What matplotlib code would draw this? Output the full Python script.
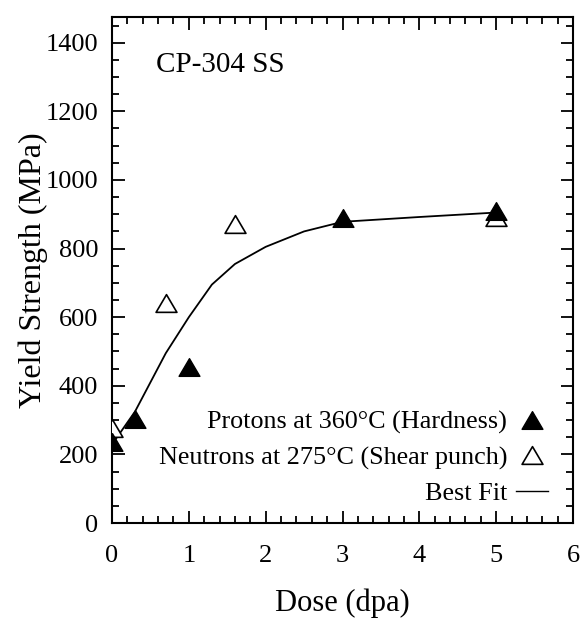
import matplotlib
matplotlib.use("Agg")
import matplotlib.pyplot as plt
from matplotlib.lines import Line2D
from matplotlib.path import Path
from matplotlib.ticker import MultipleLocator

plt.rcParams['font.family'] = ['Liberation Serif', 'DejaVu Serif']

# Data
proton_dose = [0.0, 0.3, 1.0, 3.0, 5.0]
proton_ys = [237, 302, 456, 890, 910]
neutron_dose = [0.0, 0.7, 1.6, 5.0]
neutron_ys = [278, 640, 872, 892]
fit_dose = [0.05, 0.3, 0.7, 1.0, 1.3, 1.6, 2.0, 2.5, 3.0, 4.0, 5.0]
fit_ys = [245, 325, 495, 600, 695, 755, 805, 850, 878, 892, 905]

labels = ["Protons at 360°C (Hardness)", "Neutrons at 275°C (Shear punch)", "Best Fit"]

tri = Path([(-1, -0.85), (1, -0.85), (0, 0.85), (-1, -0.85)],
           [Path.MOVETO, Path.LINETO, Path.LINETO, Path.CLOSEPOLY])

fig = plt.figure(figsize=(5.82, 6.23), dpi=100)
ax = fig.add_axes([112/582, 1-523/623, 461/582, 506/623])

ax.plot(fit_dose, fit_ys, color='black', lw=1.3, zorder=2)
ax.plot(neutron_dose, neutron_ys, linestyle='none', marker=tri, markersize=15,
        markerfacecolor='white', markeredgecolor='black', markeredgewidth=1.2, zorder=3)
ax.plot(proton_dose, proton_ys, linestyle='none', marker=tri, markersize=15,
        markerfacecolor='black', markeredgecolor='black', zorder=4)

ax.set_xlim(0, 6)
ax.set_ylim(0, 1475)
ax.xaxis.set_major_locator(MultipleLocator(1))
ax.xaxis.set_minor_locator(MultipleLocator(0.2))
ax.yaxis.set_major_locator(MultipleLocator(200))
ax.yaxis.set_minor_locator(MultipleLocator(50))
ax.tick_params(which='both', direction='in', top=True, right=True, width=1.3, labelsize=19)
ax.tick_params(which='major', length=9)
ax.tick_params(axis='x', which='major', pad=16)
ax.tick_params(axis='y', which='major', pad=10)
ax.tick_params(which='minor', length=5)
for s in ax.spines.values():
    s.set_linewidth(1.5)

ax.set_xlabel("Dose (dpa)", fontsize=22, labelpad=15)
ax.set_ylabel("Yield Strength (MPa)", fontsize=23, labelpad=-2)
ax.text(0.095, 0.905, "CP-304 SS", transform=ax.transAxes, fontsize=21, va='center')

handles = [
    Line2D([], [], linestyle='none', marker=tri, markersize=15, markerfacecolor='black', markeredgecolor='black'),
    Line2D([], [], linestyle='none', marker=tri, markersize=15, markerfacecolor='white', markeredgecolor='black', markeredgewidth=1.2),
    Line2D([], [], color='black', lw=1.0),
]
ax.legend(handles, labels, loc='lower right', bbox_to_anchor=(0.986, 0.0), frameon=False,
          markerfirst=False, fontsize=18.8, handlelength=1.25, handletextpad=0.33, labelspacing=0.45,
          borderaxespad=0.3)

fig.savefig("out.png", dpi=100)
